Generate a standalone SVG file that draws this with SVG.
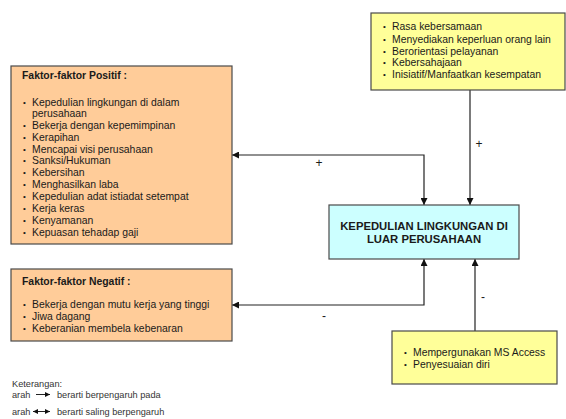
<svg xmlns="http://www.w3.org/2000/svg" width="566" height="419" viewBox="0 0 566 419">
  <style>
    .box { stroke: #4a4a4a; stroke-width: 1.2; }
    .pos { fill: #ffcc99; }
    .yel { fill: #ffff99; }
    .cen { fill: #ccffff; }
    text { font-family: "Liberation Sans", Arial, sans-serif; fill: #1a1a1a; }
    .t { font-size: 10.4px; }
    .dot { font-size: 8px; }
    .b { font-size: 10.4px; font-weight: bold; }
    .c { font-size: 11.3px; font-weight: bold; text-anchor: middle; }
    .sign { font-size: 12px; text-anchor: middle; }
    .leg { font-size: 9.2px; fill: #333; }
    .ln { fill: none; stroke: #222; stroke-width: 1.2; }
  </style>
  <defs>
    <marker id="ah" viewBox="0 0 10 10" refX="10" refY="5" markerWidth="7" markerHeight="7" orient="auto-start-reverse" markerUnits="userSpaceOnUse">
      <path d="M0,0 L10,5 L0,10 z" fill="#111"/>
    </marker>
    <marker id="ahs" viewBox="0 0 10 10" refX="10" refY="5" markerWidth="6" markerHeight="5" orient="auto-start-reverse" markerUnits="userSpaceOnUse">
      <path d="M0,0 L10,5 L0,10 z" fill="#111"/>
    </marker>
  </defs>
  <rect width="566" height="419" fill="#ffffff"/>

  <!-- connectors -->
  <g id="connectors">
    <polyline class="ln" points="232,155 424,155 424,205" marker-start="url(#ah)" marker-end="url(#ah)"/>
    <line class="ln" x1="470" y1="90" x2="470" y2="205" marker-end="url(#ah)"/>
    <polyline class="ln" points="232,305 424,305 424,259" marker-start="url(#ah)" marker-end="url(#ah)"/>
    <line class="ln" x1="475" y1="331" x2="475" y2="259" marker-end="url(#ah)"/>
    <text class="sign" x="319" y="167">+</text>
    <text class="sign" x="479" y="148">+</text>
    <text class="sign" x="324" y="320">-</text>
    <text class="sign" x="483" y="301">-</text>
  </g>

  <!-- positive factors -->
  <g id="positif">
    <rect class="box pos" x="11" y="66" width="221" height="178"/>
    <text class="b" x="22" y="79">Faktor-faktor Positif :</text>
    <g class="t">
      <text class="dot" x="23" y="105">•</text><text x="32" y="106">Kepedulian lingkungan di dalam</text>
      <text x="32" y="117">perusahaan</text>
      <text class="dot" x="23" y="128">•</text><text x="32" y="129">Bekerja dengan kepemimpinan</text>
      <text class="dot" x="23" y="140">•</text><text x="32" y="141">Kerapihan</text>
      <text class="dot" x="23" y="152">•</text><text x="32" y="153">Mencapai visi perusahaan</text>
      <text class="dot" x="23" y="163">•</text><text x="32" y="164">Sanksi/Hukuman</text>
      <text class="dot" x="23" y="175">•</text><text x="32" y="176">Kebersihan</text>
      <text class="dot" x="23" y="187">•</text><text x="32" y="188">Menghasilkan laba</text>
      <text class="dot" x="23" y="199">•</text><text x="32" y="200">Kepedulian adat istiadat setempat</text>
      <text class="dot" x="23" y="211">•</text><text x="32" y="212">Kerja keras</text>
      <text class="dot" x="23" y="223">•</text><text x="32" y="224">Kenyamanan</text>
      <text class="dot" x="23" y="235">•</text><text x="32" y="236">Kepuasan tehadap gaji</text>
    </g>
  </g>

  <!-- negative factors -->
  <g id="negatif">
    <rect class="box pos" x="11" y="269" width="221" height="72"/>
    <text class="b" x="22" y="285">Faktor-faktor Negatif :</text>
    <g class="t">
      <text class="dot" x="23" y="307">•</text><text x="32" y="308">Bekerja dengan mutu kerja yang tinggi</text>
      <text class="dot" x="23" y="319">•</text><text x="32" y="320">Jiwa dagang</text>
      <text class="dot" x="23" y="331">•</text><text x="32" y="332">Keberanian membela kebenaran</text>
    </g>
  </g>

  <!-- top supporting items -->
  <g id="atas">
    <rect class="box yel" x="371" y="13" width="194" height="77"/>
    <g class="t">
      <text class="dot" x="383" y="29">•</text><text x="392" y="30">Rasa kebersamaan</text>
      <text class="dot" x="383" y="42">•</text><text x="392" y="43">Menyediakan keperluan orang lain</text>
      <text class="dot" x="383" y="54">•</text><text x="392" y="55">Berorientasi pelayanan</text>
      <text class="dot" x="383" y="65">•</text><text x="392" y="66">Kebersahajaan</text>
      <text class="dot" x="383" y="77">•</text><text x="392" y="78">Inisiatif/Manfaatkan kesempatan</text>
    </g>
  </g>

  <!-- bottom supporting items -->
  <g id="bawah">
    <rect class="box yel" x="392" y="331" width="165" height="53"/>
    <g class="t">
      <text class="dot" x="404" y="355">•</text><text x="413" y="356">Mempergunakan MS Access</text>
      <text class="dot" x="404" y="367">•</text><text x="413" y="368">Penyesuaian diri</text>
    </g>
  </g>

  <!-- central topic -->
  <g id="pusat">
    <rect class="box cen" x="329" y="205" width="190" height="54"/>
    <text class="c" x="424" y="230">KEPEDULIAN LINGKUNGAN DI</text>
    <text class="c" x="424" y="243">LUAR PERUSAHAAN</text>
  </g>

  <!-- legend -->
  <g id="keterangan">
    <text class="leg" x="12" y="386.5">Keterangan:</text>
    <text class="leg" x="12" y="397.5">arah</text>
    <line x1="36" y1="394.5" x2="50" y2="394.5" stroke="#222" stroke-width="1" marker-end="url(#ahs)"/>
    <text class="leg" x="57" y="397.5">berarti berpengaruh pada</text>
    <text class="leg" x="12" y="414.5">arah</text>
    <line x1="33" y1="411.5" x2="50" y2="411.5" stroke="#222" stroke-width="1" marker-start="url(#ahs)" marker-end="url(#ahs)"/>
    <text class="leg" x="57" y="414.5">berarti saling berpengaruh</text>
  </g>
</svg>
